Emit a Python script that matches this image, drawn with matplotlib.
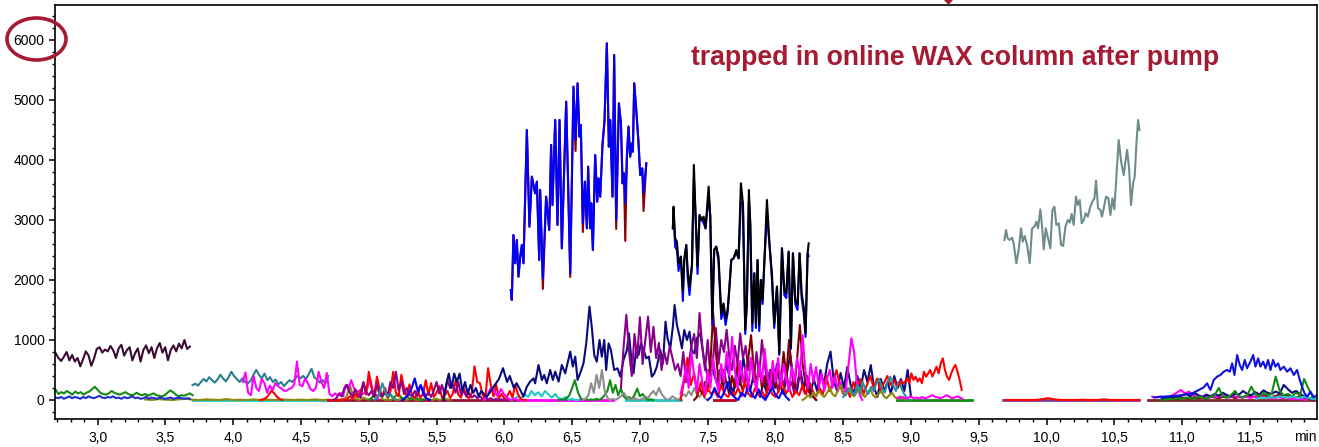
import numpy as np
import matplotlib
matplotlib.use("Agg")
import matplotlib.pyplot as plt
from matplotlib.patches import Ellipse, Polygon
from matplotlib.ticker import MultipleLocator, FuncFormatter

plt.rcParams['font.family'] = ['Liberation Sans', 'DejaVu Sans']

# evenly sampled traces: (start, end) in min and intensities
plum_span = (2.69, 3.68)
plum_y = [780, 700, 650, 720, 800, 660, 750, 640, 700, 560, 680, 810, 740, 570, 690, 850, 880, 790, 840, 810,
          900, 830, 700, 860, 920, 740, 830, 880, 660, 780, 860, 640, 830, 910, 780, 880, 700, 860, 950, 790,
          880, 660, 830, 910, 810, 940, 860, 1000, 850, 890]
green_a_span = (2.69, 3.70)
green_a_y = [170, 100, 130, 110, 150, 120, 90, 140, 110, 130, 90, 120, 140, 180, 220, 170, 120, 100, 90, 110,
             150, 120, 100, 90, 110, 130, 100, 80, 90, 120, 90, 80, 100, 70, 90, 110, 80, 70, 60, 80,
             120, 160, 130, 90, 60, 80, 70, 90, 110, 80]
blue_a_span = (2.69, 3.68)
blue_a_y = [40, 30, 50, 20, 40, 60, 30, 50, 40, 20, 50, 30, 60, 40, 30, 50, 70, 40, 30, 50, 40, 60, 30, 40, 20,
            50, 30, 40, 60, 30, 40, 20, 30, 50, 20, 40, 30, 20, 40, 30, 20, 30, 40, 20, 30, 40, 30, 20, 30, 20]
olive_a_span = (3.35, 4.70)
olive_a_y = [10, 0, 15, 5, 0, 10, 20, 5, 0, 10, 5, 0, 15, 0, 5, 0, 10, 0, 5, 0, 10, 5, 0, 5, 0, 10, 0, 5]
teal_a_span = (3.70, 4.70)
teal_a_y = [250, 270, 240, 300, 350, 310, 380, 330, 290, 340, 420, 360, 310, 380, 470, 400, 350, 300, 360, 300,
            280, 320, 420, 500, 420, 360, 440, 330, 380, 300, 340, 260, 300, 230, 280, 330, 300, 350, 410, 360,
            400, 350, 430, 520, 380, 340, 290, 330, 280, 400]
magenta_a_span = (4.07, 5.07)
magenta_a_y = [300, 460, 120, 80, 400, 200, 150, 350, 280, 120, 240, 160, 280, 230, 200, 160, 150, 180, 200, 260,
               640, 250, 230, 360, 280, 180, 150, 200, 470, 300, 200, 450, 100, 60, 110, 80, 120, 60, 250, 180,
               330, 200, 120, 160, 90, 120, 200, 360, 150, 100, 20]
red_a_span = (4.20, 4.36)
red_a_y = [0, 10, 30, 80, 150, 120, 60, 20, 0]
red_b_span = (4.70, 6.16)
red_b_y = [0, 0, 0, 5, 0, 10, 0, 20, 60, 20, 100, 40, 150, 280, 90, 470, 200, 60, 390, 180,
           60, 200, 40, 150, 470, 120, 60, 420, 200, 50, 260, 80, 30, 150, 40, 100, 330, 90, 280, 50,
           120, 230, 40, 80, 150, 30, 110, 330, 90, 40, 200, 60, 30, 120, 560, 300, 280, 80, 40, 530,
           250, 60, 250, 30, 100, 20, 60, 150, 40, 250, 100, 20, 0, 0]
purple_a_span = (4.74, 6.02)
purple_a_y = [0, 30, 100, 60, 200, 250, 120, 60, 180, 90, 40, 300, 140, 80, 150, 50, 270, 120, 60, 150,
              80, 300, 200, 470, 160, 310, 100, 200, 90, 60, 150, 60, 240, 180, 60, 120, 50, 160, 300, 110,
              250, 80, 330, 200, 260, 120, 300, 90, 150, 60, 110, 40, 80, 30, 60, 20, 40, 10, 30, 0,
              20, 0, 10, 0, 0]
olive_b_span = (4.80, 5.60)
olive_b_y = [0, 20, 80, 250, 100, 30, 0, 10, 40, 20, 0, 30, 100, 222, 80, 20, 0, 10, 0, 20, 10, 0, 30, 10, 0,
             20, 30, 10, 0, 20, 10, 30, 20, 0, 10, 20, 0, 10, 30, 10, 0]
green_b_span = (5.00, 5.40)
green_b_y = [0, 30, 80, 50, 100, 60, 120, 40, 90, 30, 70, 100, 40, 20, 60, 30, 10, 40, 20, 0, 0]
teal_b_span = (5.04, 5.20)
teal_b_y = [0, 40, 120, 278, 150, 60, 100, 30, 0]
blue_b_span = (5.25, 5.45)
blue_b_y = [0, 40, 100, 200, 361, 150, 250, 80, 20, 0]
magenta_b_span = (5.85, 6.10)
magenta_b_y = [0, 80, 200, 150, 60, 180, 90, 30, 0, 20, 0]
cyan_b_span = (6.05, 6.55)
cyan_b_y = [0, 20, 60, 30, 100, 50, 150, 80, 130, 60, 150, 90, 40, 100, 30, 10, 50, 0, 20, 0, 0]
green_c_span = (6.40, 7.10)
green_c_y = [0, 10, 0, 30, 80, 200, 330, 150, 40, 0, 20, 0, 10, 0, 20, 0, 30, 80, 150, 330,
             120, 250, 80, 190, 60, 20, 50, 10, 80, 190, 60, 100, 30, 0, 10, 0]
gray_span = (6.58, 7.50)
gray_y = [0, 20, 80, 280, 120, 420, 200, 500, 150, 40, 0, 20, 0, 30, 60, 120, 60, 20, 0, 30,
          10, 0, 20, 60, 30, 100, 150, 80, 200, 100, 40, 0, 20, 60, 30, 0, 40, 100, 60, 150,
          80, 200, 100, 50, 120, 30, 0]
purple_b_span = (6.86, 8.30)
purple_b_y = [200, 900, 1420, 800, 400, 1100, 700, 1380, 600, 1000, 1390, 800, 1220, 700, 950, 500, 800, 600, 900, 700,
              500, 600, 400, 800, 300, 600, 900, 1100, 700, 1450, 900, 500, 1000, 400, 700, 1200, 600, 1000, 800, 1170,
              700, 500, 900, 600, 1110, 700, 900, 500, 700, 300, 800, 400, 1000, 600, 300, 500, 200, 350, 150, 400,
              250, 450, 200, 300, 100, 250, 500, 200, 100, 200, 80, 50, 0]
magenta_c_span = (7.30, 8.64)
magenta_c_y = [100, 300, 550, 200, 800, 400, 150, 600, 300, 100, 500, 200, 700, 350, 150, 600, 300, 800, 400, 1050,
               500, 200, 650, 300, 550, 200, 700, 400, 150, 600, 300, 850, 400, 200, 650, 300, 700, 250, 600, 350,
               150, 550, 300, 700, 400, 1080, 500, 200, 600, 300, 550, 200, 450, 150, 350, 500, 200, 400, 150, 300,
               100, 200, 600, 1030, 800, 300, 100, 0]
maroon_span = (7.40, 8.30)
maroon_y = [0, 50, 200, 100, 300, 150, 600, 1450, 800, 300, 200, 500, 250, 100, 400, 200, 600, 300, 150, 400,
            700, 1080, 500, 300, 600, 200, 400, 150, 300, 500, 200, 600, 300, 800, 400, 1000, 500, 200, 700, 1250,
            600, 300, 150, 100, 50, 0]
red_c_span = (7.30, 8.90)
red_c_y = [0, 300, 700, 250, 450, 100, 300, 50, 200, 100, 150, 50, 250, 100, 50, 150, 80, 200, 60, 300,
           100, 50, 200, 80, 150, 40, 250, 100, 50, 150, 300, 100, 200, 50, 150, 80, 250, 100, 300, 150,
           60, 200, 100, 400, 150, 300, 500, 250, 100, 200, 50, 300, 150, 350, 100, 250, 400, 200, 360, 150,
           280, 400, 250, 330, 200]
blue_c_span = (7.50, 8.10)
blue_c_y = [0, 50, 200, 80, 30, 150, 300, 100, 40, 0, 120, 60, 250, 90, 30, 180, 60, 0, 100, 220, 80, 30, 150, 60, 0]
olive_c_span = (8.20, 8.96)
olive_c_y = [0, 30, 80, 40, 120, 60, 150, 90, 50, 120, 200, 100, 60, 150, 250, 120, 80, 180, 100, 60,
             130, 200, 90, 50, 120, 180, 80, 40, 100, 150, 60, 30, 80, 120, 50, 20, 60, 30, 0]
teal_c_span = (8.50, 8.99)
teal_c_y = [50, 100, 200, 150, 80, 250, 120, 300, 180, 100, 220, 150, 280, 350, 200, 120, 300, 389, 250, 150,
            300, 200, 100, 30, 0]
navy_c_span = (7.59, 9.00)
navy_c_y = [500, 200, 650, 300, 100, 500, 250, 700, 350, 150, 400, 200, 50, 300, 120, 500, 200, 600, 250, 100,
            450, 750, 300, 150, 500, 200, 400, 100, 350, 150, 500, 250, 600, 806, 300, 150, 450, 200, 550, 250,
            100, 400, 200, 500, 300, 583, 200, 50, 350, 150, 300, 100, 400, 200, 350, 150, 500, 50]
red_d_span = (8.91, 9.374)
red_d_y = [250, 320, 280, 306, 361, 278, 444, 333, 389, 306, 361, 278, 472, 389, 444, 500, 389, 472, 556, 444,
           611, 694, 500, 389, 333, 444, 528, 583, 472, 333, 167]
magenta_d_span = (8.90, 9.38)
magenta_d_y = [40, 30, 50, 20, 40, 60, 30, 40, 20, 50, 30, 40, 60, 80, 50, 40, 30, 50, 80, 60, 30, 40, 60, 40, 20]
magenta_e_span = (10.78, 11.92)
magenta_e_y = [56, 40, 60, 30, 50, 80, 120, 167, 110, 140, 90, 60, 50, 70, 40, 60, 50, 80, 60, 40,
               70, 50, 40, 60, 30, 50, 40, 60, 30, 40, 20, 50, 30, 40, 20, 10, 20, 10, 0]
green_e_span = (10.85, 11.99)
green_e_y = [0, 10, 20, 10, 30, 20, 40, 30, 20, 60, 40, 30, 50, 80, 200, 60, 40, 80, 150, 60,
             50, 80, 222, 100, 60, 120, 80, 100, 389, 150, 80, 100, 60, 120, 80, 350, 200, 60, 0]
navy_e_span = (10.85, 11.99)
navy_e_y = [20, 40, 30, 60, 50, 80, 100, 60, 120, 80, 50, 90, 60, 100, 70, 120, 80, 60, 110, 90,
            150, 100, 80, 130, 90, 160, 120, 100, 140, 110, 250, 180, 120, 150, 100, 60, 40, 20, 10]
maroon_e_span = (10.85, 11.99)
maroon_e_y = [0, 20, 10, 30, 20, 40, 30, 20, 50, 30, 40, 20, 60, 40, 30, 50, 40, 60, 30, 50,
              40, 70, 50, 60, 40, 80, 60, 50, 70, 90, 60, 80, 50, 40, 60, 30, 20, 10, 0]
cyan_e_span = (11.55, 11.99)
cyan_e_y = [20, 40, 30, 50, 40, 60, 50, 40, 60, 30, 50, 40, 20, 10]
red_e_span = (9.70, 10.68)
red_e_y = [0, 0, 0, 0, 0, 10, 30, 10, 0, 0, 0, 5, 0, 0, 10, 0, 0, 0, 0, 0]

# flat zero-level segments
zero_starts = [3.70, 4.70, 6.10, 6.55, 6.90, 7.55, 8.90, 9.68, 10.75]
zero_ends = [4.70, 6.10, 6.60, 6.80, 7.30, 7.70, 9.45, 10.68, 11.99]

# irregularly read traces: times (min) and intensities
wax_t = [6.048, 6.055, 6.067, 6.080, 6.092, 6.104, 6.117, 6.129, 6.141, 6.166,
         6.185, 6.203, 6.227, 6.240, 6.257, 6.264, 6.284, 6.308, 6.331, 6.345,
         6.355, 6.375, 6.392, 6.407, 6.424, 6.456, 6.486, 6.510, 6.525, 6.540,
         6.554, 6.564, 6.579, 6.594, 6.609, 6.618, 6.633, 6.641, 6.653, 6.670,
         6.685, 6.695, 6.707, 6.724, 6.739, 6.756, 6.771, 6.781, 6.798, 6.810,
         6.825, 6.845, 6.860, 6.872, 6.882, 6.892, 6.904, 6.916, 6.928, 6.941,
         6.948, 6.958, 6.973, 6.990, 7.002, 7.017, 7.027, 7.047]
wax_blue_y = [1833, 1667, 2750, 2278, 2667, 2056, 2389, 2583, 2278, 4500,
              2889, 3722, 3444, 3639, 2333, 3500, 2028, 3389, 2833, 4250,
              3250, 4667, 2917, 4667, 2528, 4972, 2111, 5222, 4333, 5278,
              4389, 4583, 2944, 3639, 2861, 3889, 2861, 3278, 2500, 4083,
              3306, 3694, 3389, 4250, 4667, 5944, 4222, 4667, 3389, 5750,
              2999, 4944, 4611, 3611, 3778, 3278, 4056, 4556, 4056, 4278,
              4139, 5278, 4833, 4278, 3750, 3861, 3444, 3944]
wax_red_y = [1833, 1667, 2750, 2278, 2667, 2056, 2389, 2583, 2278, 4500,
             2889, 3722, 3444, 3639, 2333, 3500, 1850, 3389, 2833, 4250,
             3250, 4667, 2917, 4667, 2528, 4972, 2050, 5222, 4150, 5278,
             4389, 4583, 2800, 3639, 2861, 3889, 2861, 3278, 2500, 4083,
             3306, 3694, 3389, 4250, 4667, 5944, 4222, 4667, 3389, 5750,
             2850, 4944, 4611, 3611, 3778, 2650, 4056, 4556, 4056, 4278,
             4139, 5278, 4833, 4278, 3750, 3861, 3150, 3944]

late_t = [7.243, 7.248, 7.260, 7.273, 7.285, 7.302, 7.317, 7.327, 7.342, 7.352,
          7.366, 7.384, 7.398, 7.411, 7.425, 7.440, 7.455, 7.470, 7.484, 7.507,
          7.519, 7.534, 7.548, 7.563, 7.580, 7.600, 7.617, 7.632, 7.647, 7.659,
          7.674, 7.691, 7.711, 7.728, 7.745, 7.760, 7.777, 7.789, 7.804, 7.814,
          7.829, 7.844, 7.856, 7.868, 7.880, 7.893, 7.905, 7.917, 7.937, 7.957,
          7.974, 7.991, 8.011, 8.028, 8.048, 8.065, 8.080, 8.097, 8.114, 8.129,
          8.146, 8.163, 8.178, 8.193, 8.208, 8.222, 8.237, 8.245]
late_black_y = [2861, 3222, 2694, 2639, 2278, 2389, 1833, 2333, 2583, 2167,
                1889, 2250, 3917, 3056, 2222, 3083, 3000, 3056, 2861, 3556,
                3056, 1361, 2500, 2556, 2389, 1444, 1611, 1361, 1500, 1833,
                2333, 2361, 2500, 2361, 3611, 3278, 1167, 1611, 3500, 2944,
                1278, 2111, 1278, 2333, 1250, 2000, 1667, 2250, 3333, 2556,
                2111, 1278, 1889, 778, 2528, 1833, 1778, 2472, 889, 2444,
                1667, 1583, 2444, 1778, 1556, 1111, 2444, 2611]
late_blue_y = [2861, 3100, 2550, 2500, 2150, 2389, 1650, 2333, 2583, 2050,
               1750, 2250, 3700, 3056, 2100, 3083, 3000, 2950, 2861, 3400,
               3056, 1250, 2500, 2556, 2300, 1350, 1500, 1250, 1450, 1833,
               2333, 2361, 2450, 2361, 3300, 3278, 1100, 1611, 3300, 2944,
               1150, 2111, 1200, 2333, 1150, 2000, 1600, 2250, 3100, 2556,
               2000, 1200, 1889, 750, 2528, 1750, 1700, 2472, 850, 2444,
               1600, 1500, 2444, 1700, 1450, 1050, 2444, 2400]

navy_a_t = [5.55, 5.57, 5.59, 5.61, 5.63, 5.65, 5.67, 5.69, 5.71, 5.73,
            5.75, 5.77, 5.79, 5.81, 5.83, 5.85, 5.87, 5.90, 5.93, 5.96,
            5.99, 6.02, 6.04, 6.07, 6.09]
navy_a_y = [0, 250, 440, 200, 440, 300, 440, 150, 300, 100,
            250, 120, 200, 60, 150, 100, 50, 150, 250, 350,
            530, 300, 400, 200, 280]
navy_b_t = [6.117, 6.141, 6.166, 6.190, 6.215, 6.227, 6.252, 6.277, 6.294, 6.313,
            6.338, 6.358, 6.375, 6.400, 6.424, 6.449, 6.486, 6.505, 6.523, 6.540,
            6.559, 6.584, 6.604, 6.628, 6.646, 6.663, 6.682, 6.702, 6.719, 6.737,
            6.751, 6.769, 6.786, 6.810, 6.835, 6.855, 6.879, 6.904, 6.919, 6.933,
            6.953, 6.973, 6.990, 7.007, 7.027, 7.047, 7.066, 7.088, 7.106, 7.125,
            7.150, 7.170, 7.189, 7.204, 7.224, 7.243, 7.256, 7.273, 7.293, 7.310,
            7.327, 7.347, 7.366, 7.384, 7.401, 7.420, 7.445, 7.470, 7.494, 7.531, 7.568]
navy_b_y = [167, 56, 222, 306, 361, 278, 583, 333, 417, 278,
            500, 333, 472, 306, 583, 444, 806, 556, 722, 333,
            444, 611, 944, 1556, 1194, 750, 639, 1000, 722, 1000,
            500, 944, 833, 500, 528, 389, 667, 833, 1111, 778,
            444, 861, 750, 944, 833, 694, 722, 389, 444, 556,
            833, 611, 1306, 1028, 861, 1222, 1583, 1250, 1056, 861,
            1167, 1000, 1139, 806, 778, 1028, 1111, 722, 444, 556, 278]

slate_t = [9.689, 9.701, 9.713, 9.728, 9.745, 9.757, 9.777, 9.794, 9.812, 9.824,
           9.839, 9.856, 9.876, 9.893, 9.910, 9.925, 9.937, 9.954, 9.967, 9.979,
           9.994, 10.008, 10.028, 10.043, 10.058, 10.072, 10.090, 10.107, 10.122, 10.139,
           10.156, 10.171, 10.185, 10.200, 10.217, 10.230, 10.245, 10.259, 10.274, 10.289,
           10.304, 10.323, 10.338, 10.353, 10.365, 10.380, 10.397, 10.409, 10.424, 10.439,
           10.456, 10.471, 10.486, 10.500, 10.532, 10.550, 10.569, 10.582, 10.594, 10.609,
           10.623, 10.638, 10.650, 10.663, 10.675, 10.685]
slate_y = [2667, 2833, 2694, 2667, 2706, 2611, 2278, 2500, 2861, 2639,
           2733, 2583, 2278, 2861, 2889, 2972, 2861, 3178, 2889, 2511,
           2861, 2722, 2528, 3167, 3222, 2917, 2944, 2583, 2567, 2889,
           3000, 2956, 3100, 2917, 3389, 3250, 3333, 2944, 3000, 3111,
           3056, 3222, 3306, 3361, 3656, 3194, 3167, 3056, 3222, 3389,
           3361, 3083, 3361, 3178, 4333, 3972, 3750, 3972, 4167, 3861,
           3250, 3611, 3722, 4278, 4667, 4500]

hump_t = [10.791, 10.864, 10.938, 11.012, 11.074, 11.123, 11.160, 11.184, 11.209, 11.233,
          11.258, 11.283, 11.307, 11.332, 11.352, 11.369, 11.386, 11.406, 11.425, 11.443,
          11.462, 11.479, 11.504, 11.524, 11.541, 11.561, 11.578, 11.598, 11.615, 11.634,
          11.652, 11.671, 11.688, 11.708, 11.725, 11.750, 11.775, 11.799, 11.824, 11.848,
          11.868, 11.885, 11.903, 11.922, 11.947, 11.971, 11.996]
hump_y = [44, 56, 67, 83, 111, 167, 211, 278, 167, 333,
          389, 417, 472, 500, 472, 611, 417, 750, 583, 500,
          667, 528, 639, 750, 556, 694, 556, 639, 528, 667,
          500, 667, 556, 611, 500, 556, 472, 528, 417, 500,
          333, 222, 111, 56, 139, 44, 83]

label = "trapped in online WAX column after pump"
accent = "#a51b34"


def grid(span, values):
    return np.linspace(span[0], span[1], len(values))


fig = plt.figure(figsize=(13.19, 4.47), dpi=100)
ax = fig.add_axes([55 / 1319, 28 / 447, 1262 / 1319, 414 / 447])

lw = 1.5
zero_colors = ['#20c8c8', '#9a1030', '#ff00ff', '#ff00ff', '#20c8c8', '#c00020', '#138a13', '#7b3f9e', '#7a2a2a']
for t0, t1, c in zip(zero_starts, zero_ends, zero_colors):
    ax.plot([t0, t1], [0, 0], color=c, lw=2.0)

small = [
    (olive_a_span, olive_a_y, '#8a8a10'),
    (olive_b_span, olive_b_y, '#8a8a10'),
    (green_b_span, green_b_y, '#138a13'),
    (cyan_b_span, cyan_b_y, '#20c8c8'),
    (green_c_span, green_c_y, '#138a13'),
    (gray_span, gray_y, '#8e8e8e'),
    (plum_span, plum_y, '#3a0a32'),
    (green_a_span, green_a_y, '#138a13'),
    (blue_a_span, blue_a_y, '#2030d0'),
    (teal_a_span, teal_a_y, '#2a7f8f'),
    (magenta_a_span, magenta_a_y, '#ff00ff'),
    (red_a_span, red_a_y, '#ff0000'),
    (red_b_span, red_b_y, '#ff0000'),
    (purple_a_span, purple_a_y, '#8b008b'),
    (teal_b_span, teal_b_y, '#2a8f9f'),
    (blue_b_span, blue_b_y, '#0000ff'),
    (magenta_b_span, magenta_b_y, '#ff00ff'),
]
for span, vals, c in small:
    ax.plot(grid(span, vals), vals, color=c, lw=lw)

# dark blue trace running from 5.5 to 9 min
navy_t = np.concatenate([navy_a_t, navy_b_t, grid(navy_c_span, navy_c_y)])
navy_y = np.concatenate([navy_a_y, navy_b_y, navy_c_y])
ax.plot(navy_t, navy_y, color='#0a0a80', lw=lw)

for span, vals, c in [
    (purple_b_span, purple_b_y, '#8b008b'),
    (maroon_span, maroon_y, '#800000'),
    (red_c_span, red_c_y, '#ff0000'),
    (blue_c_span, blue_c_y, '#0000ff'),
    (magenta_c_span, magenta_c_y, '#ff00ff'),
    (olive_c_span, olive_c_y, '#8a8a10'),
    (teal_c_span, teal_c_y, '#2a8f9f'),
    (red_d_span, red_d_y, '#ff0000'),
    (magenta_d_span, magenta_d_y, '#ff00ff'),
    (red_e_span, red_e_y, '#ff0000'),
]:
    ax.plot(grid(span, vals), vals, color=c, lw=lw)

ax.plot(wax_t, wax_red_y, color='#8b0000', lw=lw)
ax.plot(wax_t, wax_blue_y, color='#0000ff', lw=lw)
ax.plot(late_t, late_blue_y, color='#0000ff', lw=lw)
ax.plot(late_t, late_black_y, color='#000000', lw=lw)
ax.plot(slate_t, slate_y, color='#6f8c8c', lw=lw)

for span, vals, c in [
    (maroon_e_span, maroon_e_y, '#7a1010'),
    (magenta_e_span, magenta_e_y, '#ff00ff'),
    (navy_e_span, navy_e_y, '#0a0a80'),
    (green_e_span, green_e_y, '#138a13'),
    (cyan_e_span, cyan_e_y, '#20c8c8'),
]:
    ax.plot(grid(span, vals), vals, color=c, lw=lw)
ax.plot(hump_t, hump_y, color='#1010e0', lw=lw)

ax.set_xlim(2.685, 11.995)
ax.set_ylim(-317, 6583)
ax.xaxis.set_major_locator(MultipleLocator(0.5))
ax.xaxis.set_minor_locator(MultipleLocator(0.1))
ax.xaxis.set_major_formatter(FuncFormatter(lambda v, p: f"{v:.1f}".replace('.', ',')))
ax.yaxis.set_major_locator(MultipleLocator(1000))
ax.yaxis.set_minor_locator(MultipleLocator(200))
ax.tick_params(which='major', direction='out', length=4.5, width=1.1, labelsize=10, pad=3)
ax.tick_params(axis='x', which='major', pad=4.5)
ax.tick_params(which='minor', direction='out', length=2.5, width=1.0)
for s in ax.spines.values():
    s.set_linewidth(1.2)

ax.text(9.323, 5700, label, color=accent, fontsize=19.2, fontweight='bold', ha='center', va='center')
fig.text(1305 / 1319, 1 - 437 / 447, "min", ha='center', va='center', fontsize=10)

# ring around the top y label and the tip of the arrow above the plot
fig.add_artist(Ellipse((36.5 / 1319, 1 - 39 / 447), 59 / 1319, 42 / 447, transform=fig.transFigure,
                       fill=False, ec=accent, lw=2.6))
fig.add_artist(Polygon([(944 / 1319, 1.0), (953 / 1319, 1.0), (948.5 / 1319, 1 - 5 / 447)],
                       closed=True, transform=fig.transFigure, fc=accent, ec='none'))

fig.savefig("out.png", dpi=100)
